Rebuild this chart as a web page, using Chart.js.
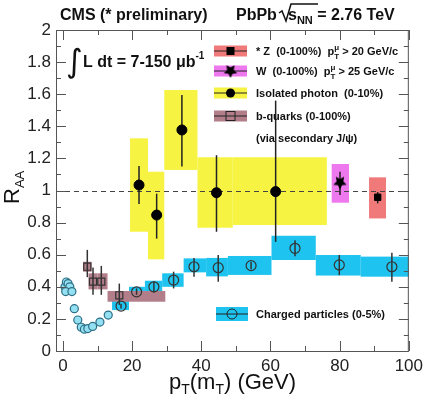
<!DOCTYPE html>
<html>
<head>
<meta charset="utf-8">
<title>RAA vs pT</title>
<script src="https://cdn.jsdelivr.net/npm/chart.js@4.4.1/dist/chart.umd.min.js"></script>
<style>
  html, body { margin: 0; padding: 0; background: #fff; }
</style>
</head>
<body>
<canvas id="raa" width="428" height="397"></canvas>
<script>
const xTicks = [0, 20, 40, 60, 80, 100];
const yTicks = [0, 0.2, 0.4, 0.6, 0.8, 1, 1.2, 1.4, 1.6, 1.8, 2];

// charged particles (0-5%), points with systematic boxes
const chX = [16.8, 21.3, 26.3, 32.0, 37.9, 44.9, 54.4, 67.1, 79.9, 95.1];
const chY = [0.28, 0.369, 0.40, 0.442, 0.525, 0.519, 0.532, 0.640, 0.536, 0.525];
const chErrLo = [0.265, 0.35, 0.365, 0.39, 0.463, 0.432, 0.51, 0.59, 0.473, 0.432];
const chErrHi = [0.295, 0.39, 0.435, 0.494, 0.58, 0.598, 0.555, 0.69, 0.598, 0.612];
const chBoxX0 = [14.2, 19.1, 23.7, 28.7, 34.9, 41.4, 47.7, 60.3, 73.1, 86.1];
const chBoxX1 = [19.1, 23.7, 28.7, 34.9, 41.4, 47.7, 60.3, 73.1, 86.1, 100];
const chBoxLo = [0.255, 0.33, 0.36, 0.40, 0.49, 0.465, 0.474, 0.567, 0.47, 0.463];
const chBoxHi = [0.313, 0.40, 0.438, 0.484, 0.577, 0.58, 0.592, 0.718, 0.598, 0.588];

// charged particles, low pT (no boxes)
const lowX = [0.6, 1.0, 1.5, 2.0, 0.8, 2.6, 3.3, 4.3, 5.3, 6.2, 7.2, 8.6, 10.7, 13.1];
const lowY = [0.40, 0.43, 0.42, 0.40, 0.37, 0.37, 0.264, 0.193, 0.148, 0.136, 0.140, 0.153, 0.180, 0.224];

// b-quarks (0-100%) via secondary J/psi
const bX = [7.05, 8.7, 11.1, 16.3];
const bY = [0.525, 0.432, 0.432, 0.347];
const bErrLo = [0.46, 0.35, 0.35, 0.287];
const bErrHi = [0.63, 0.52, 0.53, 0.42];
const bBoxX0 = [5.8, 7.4, 10.0, 12.9];
const bBoxX1 = [8.3, 10.0, 12.9, 29.6];
const bBoxLo = [0.494, 0.384, 0.384, 0.307];
const bBoxHi = [0.556, 0.484, 0.484, 0.374];

// isolated photon (0-10%)
const gX = [22.0, 27.1, 34.4, 44.4, 61.5];
const gY = [1.034, 0.847, 1.377, 0.986, 0.993];
const gErrLo = [0.916, 0.70, 1.15, 0.743, 0.68];
const gErrHi = [1.153, 0.98, 1.595, 1.22, 1.56];
const gBoxX0 = [19.4, 24.6, 29.3, 38.9, 49.1];
const gBoxX1 = [24.6, 29.3, 38.9, 49.1, 76.3];
const gBoxLo = [0.743, 0.571, 1.128, 0.768, 0.785];
const gBoxHi = [1.325, 1.117, 1.626, 1.207, 1.207];

// W (0-100%)
const wX = [80.1];
const wY = [1.05];
const wErrLo = [0.972];
const wErrHi = [1.117];
const wBoxX0 = [77.7];
const wBoxX1 = [82.7];
const wBoxLo = [0.924];
const wBoxHi = [1.165];

// Z (0-100%)
const zX = [91.0];
const zY = [0.958];
const zErrLo = [0.92];
const zErrHi = [0.99];
const zBoxX0 = [88.5];
const zBoxX1 = [93.4];
const zBoxLo = [0.826];
const zBoxHi = [1.082];

const FONT = "'Liberation Sans', Arial, sans-serif";
const CYAN = "#1fc3ef", BROWN = "#b17e8a", YELLOW = "#f7f343", MAGENTA = "#ee78ee", RED = "#f07a7a";

const boxSets = [
    { color: CYAN, x0: chBoxX0, x1: chBoxX1, lo: chBoxLo, hi: chBoxHi },
    { color: BROWN, x0: bBoxX0, x1: bBoxX1, lo: bBoxLo, hi: bBoxHi },
    { color: YELLOW, x0: gBoxX0, x1: gBoxX1, lo: gBoxLo, hi: gBoxHi },
    { color: MAGENTA, x0: wBoxX0, x1: wBoxX1, lo: wBoxLo, hi: wBoxHi },
    { color: RED, x0: zBoxX0, x1: zBoxX1, lo: zBoxLo, hi: zBoxHi }
];
const errSets = [
    { x: chX, lo: chErrLo, hi: chErrHi, color: "#333" },
    { x: bX, lo: bErrLo, hi: bErrHi, color: "#333" },
    { x: gX, lo: gErrLo, hi: gErrHi, color: "#222" },
    { x: wX, lo: wErrLo, hi: wErrHi, color: "#222" },
    { x: zX, lo: zErrLo, hi: zErrHi, color: "#222" }
];

const toPoints = (xs, ys) => xs.map((v, i) => ({ x: v, y: ys[i] }));

function starImage(r) {
    const c = document.createElement("canvas");
    c.width = c.height = 2 * r + 2;
    const g = c.getContext("2d");
    g.beginPath();
    for (let i = 0; i < 10; i++) {
        const a = Math.PI / 2 + i * Math.PI / 5;
        const rad = i % 2 ? r * 0.5 : r;
        g.lineTo(r + 1 + rad * Math.cos(a), r + 1 + rad * Math.sin(a));
    }
    g.closePath();
    g.fillStyle = "#000";
    g.fill();
    return c;
}
const star = starImage(7);

function richText(ctx, x, y, parts, weight) {
    parts.forEach(p => {
        ctx.font = `${weight} ${p.size}px ${FONT}`;
        if (p.sup !== undefined) {
            ctx.fillText(p.sup, x, y + p.supDy);
            ctx.fillText(p.sub, x, y + p.subDy);
            x += Math.max(ctx.measureText(p.sup).width, ctx.measureText(p.sub).width);
        } else {
            ctx.fillText(p.t, x, y + (p.dy || 0));
            x += ctx.measureText(p.t).width;
        }
    });
    return x;
}

function legendIcon(ctx, x, cy, w, h, color, marker) {
    ctx.fillStyle = color;
    ctx.fillRect(x, cy - h / 2, w, h);
    ctx.strokeStyle = "#222";
    ctx.lineWidth = 1;
    ctx.beginPath();
    ctx.moveTo(x, cy);
    ctx.lineTo(x + w, cy);
    ctx.stroke();
    const mx = x + w / 2;
    ctx.fillStyle = "#000";
    if (marker === "square") ctx.fillRect(mx - 4, cy - 4, 8, 8);
    else if (marker === "star") ctx.drawImage(star, mx - 8, cy - 8);
    else if (marker === "dot") { ctx.beginPath(); ctx.arc(mx, cy, 4.5, 0, 2 * Math.PI); ctx.fill(); }
    else if (marker === "open-square") ctx.strokeRect(mx - 4.5, cy - 4.5, 9, 9);
    else if (marker === "open-circle") { ctx.beginPath(); ctx.arc(mx, cy, 5, 0, 2 * Math.PI); ctx.stroke(); }
}

const rootStyle = {
    id: "rootStyle",
    beforeDatasetsDraw(chart) {
        const { ctx, scales: { x, y }, chartArea: a } = chart;
        ctx.save();
        boxSets.forEach(s => {
            ctx.fillStyle = s.color;
            s.x0.forEach((v, i) => {
                const px0 = x.getPixelForValue(v), px1 = x.getPixelForValue(s.x1[i]);
                const py0 = y.getPixelForValue(s.hi[i]), py1 = y.getPixelForValue(s.lo[i]);
                ctx.fillRect(px0, py0, px1 - px0, py1 - py0);
            });
        });
        // dashed line at unity
        const y1 = Math.round(y.getPixelForValue(1)) + 0.5;
        ctx.strokeStyle = "#444";
        ctx.lineWidth = 1;
        ctx.setLineDash([5, 4]);
        ctx.beginPath();
        ctx.moveTo(a.left, y1);
        ctx.lineTo(a.right, y1);
        ctx.stroke();
        ctx.setLineDash([]);
        // error bars
        ctx.lineWidth = 1.5;
        errSets.forEach(s => {
            ctx.strokeStyle = s.color;
            s.x.forEach((v, i) => {
                const px = x.getPixelForValue(v);
                ctx.beginPath();
                ctx.moveTo(px, y.getPixelForValue(s.lo[i]));
                ctx.lineTo(px, y.getPixelForValue(s.hi[i]));
                ctx.stroke();
            });
        });
        ctx.restore();
    },
    afterDraw(chart) {
        const { ctx, scales: { x, y }, chartArea: a } = chart;
        ctx.save();
        // frame and inward ticks on all four sides
        ctx.strokeStyle = "#555";
        ctx.lineWidth = 1;
        ctx.strokeRect(a.left + 0.5, a.top + 0.5, a.right - a.left - 1, a.bottom - a.top);
        ctx.beginPath();
        for (let v = 0; v <= 100; v += 10) {
            const px = Math.round(x.getPixelForValue(v)) + 0.5;
            const len = v % 20 === 0 ? 10 : 5;
            ctx.moveTo(px, a.bottom); ctx.lineTo(px, a.bottom - len);
            ctx.moveTo(px, a.top); ctx.lineTo(px, a.top + len);
        }
        for (let k = 0; k <= 20; k++) {
            const py = Math.round(y.getPixelForValue(k / 10)) + 0.5;
            const len = k % 2 === 0 ? 10 : 5;
            ctx.moveTo(a.left, py); ctx.lineTo(a.left + len, py);
            ctx.moveTo(a.right, py); ctx.lineTo(a.right - len, py);
        }
        ctx.stroke();

        ctx.fillStyle = "#111";
        ctx.textBaseline = "alphabetic";
        ctx.textAlign = "left";
        // header
        richText(ctx, 60, 20, [{ t: "CMS (* preliminary)", size: 16 }], "bold");
        richText(ctx, 236, 20, [{ t: "PbPb", size: 16 }], "bold");
        ctx.strokeStyle = "#111";
        ctx.lineWidth = 1.5;
        ctx.beginPath();
        ctx.moveTo(279, 13); ctx.lineTo(282, 11); ctx.lineTo(286, 21); ctx.lineTo(291, 4); ctx.lineTo(318, 4);
        ctx.stroke();
        richText(ctx, 288, 20, [{ t: "s", size: 16 }, { t: "NN", size: 11, dy: 4 }, { t: " = 2.76 TeV", size: 16 }], "bold");

        // luminosity
        ctx.font = `32px 'DejaVu Sans', sans-serif`;
        ctx.fillText("\u222B", 66, 72);
        richText(ctx, 83, 67, [{ t: "L dt = 7-150 \u03BCb", size: 16 }, { t: "-1", size: 10, dy: -8 }], "bold");

        // legend
        const lx = 214, lw = 33, lh = 11, tx = 256;
        const rows = [
            { cy: 51, color: RED, marker: "square",
              parts: [{ t: "* Z  (0-100%)  p", size: 11 }, { sup: "\u03BC", sub: "T", size: 8, supDy: -5, subDy: 4 }, { t: " > 20 GeV/c", size: 11 }] },
            { cy: 71, color: MAGENTA, marker: "star",
              parts: [{ t: "W  (0-100%)  p", size: 11 }, { sup: "\u03BC", sub: "T", size: 8, supDy: -5, subDy: 4 }, { t: " > 25 GeV/c", size: 11 }] },
            { cy: 93, color: YELLOW, marker: "dot", parts: [{ t: "Isolated photon  (0-10%)", size: 11 }] },
            { cy: 116, color: BROWN, marker: "open-square", parts: [{ t: "b-quarks (0-100%)", size: 11 }] }
        ];
        rows.forEach(r => {
            legendIcon(ctx, lx, r.cy, lw, lh, r.color, r.marker);
            ctx.fillStyle = "#111";
            richText(ctx, tx, r.cy + 4, r.parts, "bold");
        });
        richText(ctx, tx, 142, [{ t: "(via secondary J/\u03C8)", size: 11 }], "bold");
        legendIcon(ctx, 216, 314, 32, 14, CYAN, "open-circle");
        ctx.fillStyle = "#111";
        richText(ctx, tx, 318, [{ t: "Charged particles (0-5%)", size: 11 }], "bold");

        // axis titles
        richText(ctx, 169, 389, [{ t: "p", size: 22 }, { t: "T", size: 14, dy: 5 }, { t: "(m", size: 22 }, { t: "T", size: 14, dy: 5 }, { t: ") (GeV)", size: 22 }], "normal");
        ctx.translate(19, 204);
        ctx.rotate(-Math.PI / 2);
        richText(ctx, 0, 0, [{ t: "R", size: 22 }, { t: "AA", size: 13, dy: 5 }], "normal");
        ctx.restore();
    }
};

new Chart(document.getElementById("raa"), {
    type: "scatter",
    data: {
        datasets: [
            { label: "Charged particles low pT", data: toPoints(lowX, lowY), pointStyle: "circle", pointRadius: 4,
              backgroundColor: "#92e0f2", borderColor: "#2e6e84", borderWidth: 1.2 },
            { label: "Charged particles (0-5%)", data: toPoints(chX, chY), pointStyle: "circle", pointRadius: 5,
              backgroundColor: "rgba(0,0,0,0)", borderColor: "#333", borderWidth: 1.2 },
            { label: "b-quarks (0-100%)", data: toPoints(bX, bY), pointStyle: "rect", pointRadius: 5,
              backgroundColor: "rgba(0,0,0,0)", borderColor: "#333", borderWidth: 1.2 },
            { label: "Isolated photon (0-10%)", data: toPoints(gX, gY), pointStyle: "circle", pointRadius: 5,
              backgroundColor: "#000", borderColor: "#000" },
            { label: "W (0-100%)", data: toPoints(wX, wY), pointStyle: star },
            { label: "Z (0-100%)", data: toPoints(zX, zY), pointStyle: "rect", pointRadius: 4.5,
              backgroundColor: "#000", borderColor: "#000" }
        ]
    },
    options: {
        responsive: false,
        animation: false,
        devicePixelRatio: 1,
        layout: { padding: { top: 30, right: 15, left: 0, bottom: 0 } },
        plugins: { legend: { display: false }, tooltip: { enabled: false }, title: { display: false } },
        scales: {
            x: {
                type: "linear", min: -2, max: 100,
                afterBuildTicks: axis => { axis.ticks = xTicks.map(v => ({ value: v })); },
                afterFit: axis => { axis.height = 46; },
                grid: { display: false, drawTicks: false },
                border: { display: false },
                ticks: { font: { size: 17, family: FONT }, color: "#222", padding: 5, maxRotation: 0, autoSkip: false, callback: v => String(v) }
            },
            y: {
                type: "linear", min: 0, max: 2,
                afterBuildTicks: axis => { axis.ticks = yTicks.map(v => ({ value: v })); },
                afterFit: axis => { axis.width = 56; },
                grid: { display: false, drawTicks: false },
                border: { display: false },
                ticks: { font: { size: 17, family: FONT }, color: "#222", padding: 5, autoSkip: false, callback: v => String(v) }
            }
        }
    },
    plugins: [rootStyle]
});
</script>
</body>
</html>
